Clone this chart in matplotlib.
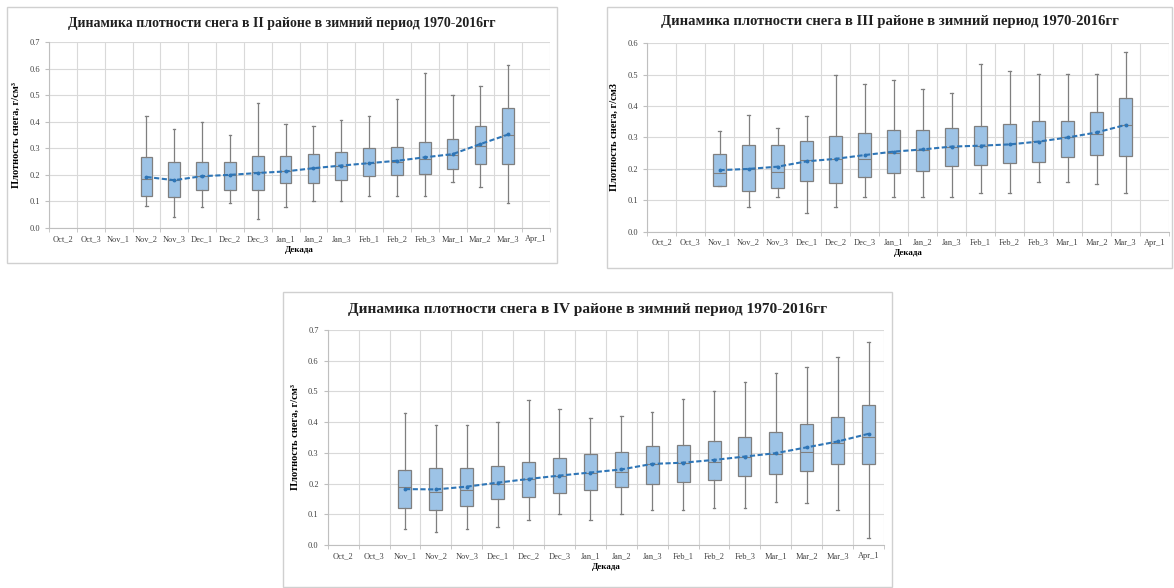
import matplotlib.pyplot as plt
from matplotlib.patches import Rectangle

plt.rcParams['font.family'] = ['Liberation Serif', 'DejaVu Serif']

decades = ["Oct_2", "Oct_3", "Nov_1", "Nov_2", "Nov_3", "Dec_1", "Dec_2", "Dec_3",
           "Jan_1", "Jan_2", "Jan_3", "Feb_1", "Feb_2", "Feb_3",
           "Mar_1", "Mar_2", "Mar_3", "Apr_1"]

# II район: Nov_2 .. Mar_3
r2_start = "Nov_2"
r2_low = [0.081, 0.040, 0.080, 0.093, 0.033, 0.080, 0.100, 0.100, 0.120, 0.120, 0.120, 0.174, 0.154, 0.095]
r2_q1 = [0.121, 0.115, 0.144, 0.144, 0.144, 0.170, 0.171, 0.180, 0.194, 0.198, 0.205, 0.221, 0.241, 0.241]
r2_med = [0.184, 0.180, 0.197, 0.200, 0.210, 0.216, 0.225, 0.235, 0.244, 0.250, 0.260, 0.275, 0.310, 0.350]
r2_q3 = [0.269, 0.250, 0.250, 0.250, 0.270, 0.270, 0.280, 0.286, 0.300, 0.306, 0.325, 0.334, 0.385, 0.451]
r2_high = [0.420, 0.372, 0.400, 0.350, 0.470, 0.390, 0.385, 0.405, 0.420, 0.485, 0.584, 0.500, 0.533, 0.613]
r2_mean = [0.192, 0.180, 0.195, 0.200, 0.207, 0.213, 0.225, 0.235, 0.244, 0.253, 0.266, 0.278, 0.316, 0.352]

# III район: Nov_1 .. Mar_3
r3_start = "Nov_1"
r3_low = [0.145, 0.080, 0.110, 0.060, 0.080, 0.109, 0.109, 0.109, 0.109, 0.122, 0.122, 0.159, 0.159, 0.151, 0.122]
r3_q1 = [0.146, 0.130, 0.138, 0.160, 0.156, 0.173, 0.188, 0.194, 0.209, 0.214, 0.218, 0.223, 0.237, 0.243, 0.241]
r3_med = [0.186, 0.200, 0.190, 0.228, 0.233, 0.233, 0.250, 0.260, 0.270, 0.272, 0.280, 0.290, 0.300, 0.310, 0.340]
r3_q3 = [0.247, 0.275, 0.275, 0.290, 0.305, 0.314, 0.324, 0.324, 0.330, 0.338, 0.342, 0.352, 0.352, 0.382, 0.427]
r3_high = [0.322, 0.372, 0.330, 0.370, 0.500, 0.469, 0.483, 0.453, 0.443, 0.533, 0.512, 0.502, 0.502, 0.502, 0.571]
r3_mean = [0.196, 0.200, 0.207, 0.224, 0.232, 0.244, 0.255, 0.262, 0.271, 0.274, 0.278, 0.287, 0.300, 0.316, 0.340]

# IV район: Nov_1 .. Apr_1
r4_start = "Nov_1"
r4_low = [0.051, 0.041, 0.052, 0.060, 0.081, 0.100, 0.081, 0.100, 0.114, 0.114, 0.119, 0.119, 0.141, 0.136, 0.114, 0.022]
r4_q1 = [0.119, 0.114, 0.128, 0.149, 0.157, 0.168, 0.178, 0.190, 0.198, 0.206, 0.212, 0.225, 0.230, 0.241, 0.264, 0.264]
r4_med = [0.190, 0.174, 0.179, 0.200, 0.214, 0.225, 0.236, 0.239, 0.264, 0.266, 0.271, 0.288, 0.296, 0.304, 0.331, 0.353]
r4_q3 = [0.244, 0.252, 0.252, 0.258, 0.271, 0.284, 0.295, 0.302, 0.322, 0.326, 0.340, 0.353, 0.369, 0.393, 0.416, 0.456]
r4_high = [0.431, 0.391, 0.391, 0.400, 0.472, 0.442, 0.413, 0.421, 0.432, 0.474, 0.502, 0.532, 0.561, 0.581, 0.613, 0.662]
r4_mean = [0.182, 0.181, 0.190, 0.203, 0.215, 0.226, 0.236, 0.246, 0.264, 0.268, 0.277, 0.288, 0.299, 0.318, 0.337, 0.362]

W, H = 1174, 588
fig = plt.figure(figsize=(W / 100, H / 100), dpi=100)
fig.patch.set_facecolor('white')

box_face = '#9DC3E6'
edge = '#7F7F7F'
mean_col = '#2E75B6'
grid_col = '#D9D9D9'


def px_axes(x0, x1, ytop, ybot):
    return fig.add_axes([x0 / W, 1 - ybot / H, (x1 - x0) / W, (ybot - ytop) / H])


def frame(x0, y0, x1, y1, title, ty, tfs):
    fig.patches.append(Rectangle((x0 / W, 1 - y1 / H), (x1 - x0) / W, (y1 - y0) / H,
                                 transform=fig.transFigure, fill=False,
                                 edgecolor='#D0D0D0', lw=1.0))
    fig.text((x0 + x1) / 2 / W, 1 - ty / H, title, ha='center', va='center',
             fontsize=tfs, fontweight='bold', color='#202020')


def panel(ax, start, low, q1, med, q3, high, mean, ymax, ylabel):
    i0 = decades.index(start)
    pos = [i0 + k + 0.5 for k in range(len(low))]
    stats = []
    for k in range(len(low)):
        stats.append(dict(whislo=low[k], q1=q1[k], med=med[k], q3=q3[k],
                          whishi=high[k], fliers=[]))
    ax.bxp(stats, positions=pos, widths=0.42, patch_artist=True, showcaps=True,
           boxprops=dict(facecolor=box_face, edgecolor=edge, lw=0.9),
           whiskerprops=dict(color=edge, lw=0.9),
           capprops=dict(color=edge, lw=0.9),
           medianprops=dict(color=edge, lw=0.8),
           capwidths=0.08, manage_ticks=False, zorder=3)
    ax.plot(pos, mean, color=mean_col, lw=1.5, ls=(0, (2.5, 1.2)),
            marker='o', ms=1.8, zorder=4)
    ax.set_xlim(0, len(decades))
    ax.set_ylim(0, ymax)
    n = int(round(ymax * 10)) + 1
    ax.set_yticks([v / 10 for v in range(n)])
    ax.set_yticklabels([f"{v / 10:.1f}" for v in range(n)])
    ax.set_xticks([k + 0.5 for k in range(len(decades))])
    ax.set_xticklabels(decades)
    ax.set_xticks(range(len(decades) + 1), minor=True)
    ax.tick_params(axis='x', which='major', length=0, labelsize=6, pad=5, colors='#404040')
    ax.tick_params(axis='x', which='minor', length=3, color='#BFBFBF')
    ax.tick_params(axis='y', length=3, color='#BFBFBF', labelsize=6, colors='#404040')
    ax.grid(True, axis='y', which='major', color=grid_col, lw=0.8)
    ax.grid(True, axis='x', which='minor', color=grid_col, lw=0.8)
    ax.set_axisbelow(True)
    for s in ['top', 'right']:
        ax.spines[s].set_visible(False)
    for s in ['left', 'bottom']:
        ax.spines[s].set_color('#BFBFBF')
        ax.spines[s].set_linewidth(0.8)
    ax.set_ylabel(ylabel, fontsize=7.5, fontweight='bold', labelpad=6)
    ax.set_xlabel("Декада", fontsize=6.5, fontweight='bold', labelpad=2)


frame(7, 7, 557, 263, "Динамика плотности снега в II районе в зимний период 1970-2016гг", 23, 10)
frame(607, 7, 1172, 268, "Динамика плотности снега в III районе в зимний период 1970-2016гг", 22, 10.5)
frame(283, 292, 892, 587, "Динамика плотности снега в IV районе в зимний период 1970-2016гг", 310, 11.1)

ax1 = px_axes(49, 550, 42, 228)
panel(ax1, r2_start, r2_low, r2_q1, r2_med, r2_q3, r2_high, r2_mean, 0.7,
      "Плотность снега, г/см³")

ax2 = px_axes(647, 1169, 43.3, 231.7)
panel(ax2, r3_start, r3_low, r3_q1, r3_med, r3_q3, r3_high, r3_mean, 0.6,
      "Плотность снега, г/см3")

ax3 = px_axes(327.7, 884, 330, 545)
panel(ax3, r4_start, r4_low, r4_q1, r4_med, r4_q3, r4_high, r4_mean, 0.7,
      "Плотность снега, г/см³")

fig.savefig("out.png", dpi=100)
